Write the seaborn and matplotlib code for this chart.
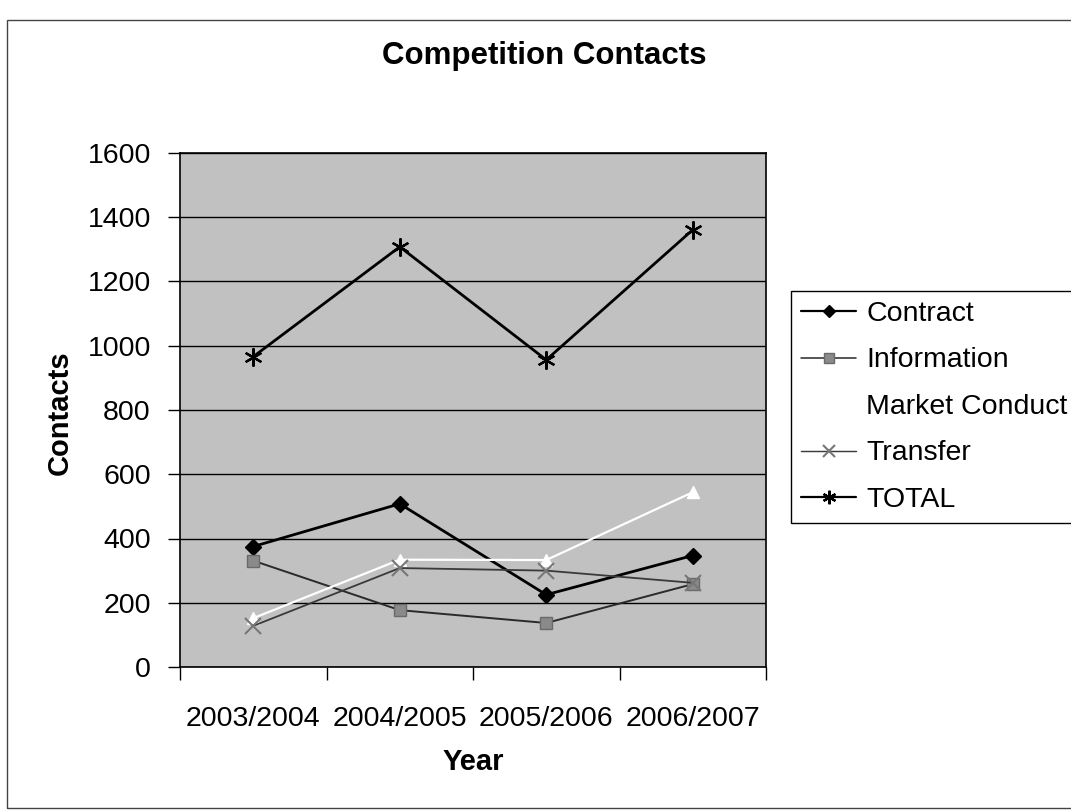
import numpy as np
import pandas as pd
import matplotlib
matplotlib.use("Agg")
import matplotlib.pyplot as plt
from matplotlib.patches import Rectangle
from matplotlib.lines import Line2D
import seaborn as sns

# Competition contacts by financial year
years = ["2003/2004", "2004/2005", "2005/2006", "2006/2007"]
contract = [375, 508, 225, 347]
information = [331, 177, 137, 258]
market_conduct = [152, 334, 333, 544]
transfer = [128, 308, 300, 262]
total = [966, 1308, 956, 1361]

series_names = ["Contract", "Information", "Market Conduct", "Transfer", "TOTAL"]
series_values = [contract, information, market_conduct, transfer, total]

rows = []
for name, vals in zip(series_names, series_values):
    for i, v in enumerate(vals):
        rows.append({"series": name, "pos": i, "year": years[i], "contacts": v})
df = pd.DataFrame(rows)

sns.set_theme(style="white")
plt.rcParams["font.family"] = ["Liberation Sans", "DejaVu Sans"]
plt.rcParams["text.color"] = "black"
plt.rcParams["xtick.color"] = "black"
plt.rcParams["ytick.color"] = "black"
plt.rcParams["xtick.labelcolor"] = "black"
plt.rcParams["ytick.labelcolor"] = "black"

W, H = 1071, 811
fig = plt.figure(figsize=(W / 100, H / 100), dpi=100)
fig.patch.set_facecolor("white")

# outer chart-area frame
fig.patches.append(Rectangle((7 / W, 1 - 808 / H), 1085 / W, 788 / H,
                             transform=fig.transFigure, fill=False,
                             edgecolor="#444444", linewidth=1.0))

ax = fig.add_axes([180 / W, 1 - 667 / H, (766 - 180) / W, (667 - 153) / H])
ax.set_facecolor("#c1c1c1")

styles = {
    "Contract": dict(color="black", lw=2.0, marker="D", ms=8, mfc="black", mec="black", mew=1),
    "Information": dict(color="#2a2a2a", lw=1.4, marker="s", ms=9, mfc="#8a8a8a", mec="#6a6a6a", mew=1),
    "Market Conduct": dict(color="white", lw=1.6, marker="^", ms=9, mfc="white", mec="white", mew=1),
    "Transfer": dict(color="#3a3a3a", lw=1.3, marker="x", ms=11, mfc="#777777", mec="#777777", mew=1.5),
    "TOTAL": dict(color="black", lw=2.0, marker=(6, 2, 0), ms=13, mfc="black", mec="black", mew=1.6),
}

for name in series_names:
    st = styles[name]
    sub = df[df["series"] == name]
    sns.lineplot(data=sub, x="pos", y="contacts", ax=ax, color=st["color"],
                 linewidth=st["lw"], marker=st["marker"], markersize=st["ms"],
                 markerfacecolor=st["mfc"], markeredgecolor=st["mec"],
                 markeredgewidth=st["mew"], legend=False, zorder=3)

ax.set_xlim(-0.5, len(years) - 0.5)
ax.set_ylim(0, 1600)
ax.set_yticks(np.arange(0, 1601, 200))
ax.yaxis.grid(True, color="black", linewidth=1.0)
ax.xaxis.grid(False)
ax.set_axisbelow(True)

ax.set_xticks(np.arange(len(years)))
ax.set_xticklabels(years)
ax.set_xticks(np.arange(-0.5, len(years), 1.0), minor=True)
ax.tick_params(axis="x", which="major", length=0, pad=28, labelsize=20.5, labelcolor="black")
ax.tick_params(axis="x", which="minor", length=9, width=1, color="black", direction="out", bottom=True)
ax.tick_params(axis="y", which="major", length=9, width=1, color="black", direction="out",
               left=True, pad=12, labelsize=20.5, labelcolor="black")

for sp in ax.spines.values():
    sp.set_visible(True)
    sp.set_color("black")
    sp.set_linewidth(1.2)

ax.set_xlabel("")
ax.set_ylabel("")

fig.text(544 / W, 1 - 56 / H, "Competition Contacts", ha="center", va="center",
         fontsize=22.5, fontweight="bold", color="black")
fig.text(60 / W, 1 - 413 / H, "Contacts", ha="center", va="center", rotation=90,
         fontsize=21, fontweight="bold", color="black")
fig.text(473 / W, 1 - 762 / H, "Year", ha="center", va="center",
         fontsize=21, fontweight="bold", color="black")

handles = []
for name in series_names:
    st = styles[name]
    handles.append(Line2D([], [], color=st["color"], lw=st["lw"] * 0.8, marker=st["marker"],
                          markersize=st["ms"] * 0.75, markerfacecolor=st["mfc"],
                          markeredgecolor=st["mec"], markeredgewidth=st["mew"]))

leg = fig.legend(handles, series_names, loc="upper left",
                 bbox_to_anchor=(791 / W, 1 - 291 / H), bbox_transform=fig.transFigure,
                 fontsize=20.5, frameon=True, fancybox=False, framealpha=1,
                 edgecolor="black", borderpad=0.35, borderaxespad=0,
                 handlelength=1.95, handletextpad=0.35, labelspacing=0.72,
                 labelcolor="black")
leg.get_frame().set_linewidth(1.0)

fig.savefig("out.png", dpi=100, facecolor="white")
